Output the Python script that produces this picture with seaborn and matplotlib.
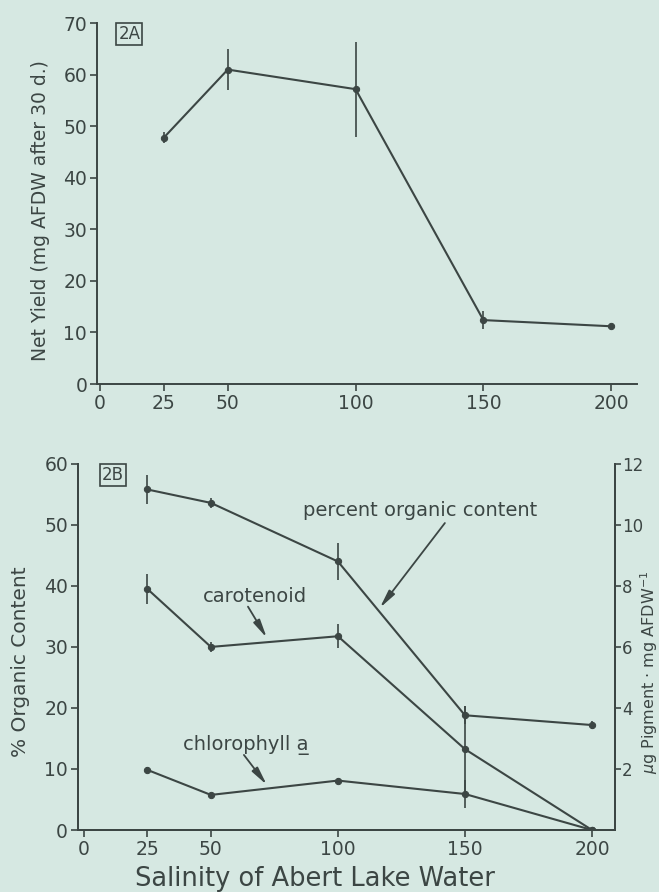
import numpy as np
import pandas as pd
import matplotlib
matplotlib.use('Agg')
import matplotlib.pyplot as plt
import seaborn as sns

# salinity levels (shared by both panels)
salinity = [25, 50, 100, 150, 200]

# panel 2A: net yield (mg AFDW after 30 d.)
net_yield = [47.8, 61.0, 57.2, 12.4, 11.2]
net_yield_err = [1.0, 4.0, 9.2, 1.8, 0.5]

# panel 2B: percent organic content (left axis)
organic = [55.8, 53.6, 44.0, 18.8, 17.2]
organic_err = [2.3, 0.8, 3.0, 1.5, 0.6]

# panel 2B: pigments, ug pigment per mg AFDW (right axis)
carotenoid = [7.9, 6.0, 6.35, 2.65, 0.0]
carotenoid_err = [0.5, 0.15, 0.4, 1.4, 0.0]
chlorophyll = [1.97, 1.15, 1.62, 1.18, 0.0]
chlorophyll_err = [0.1, 0.05, 0.1, 0.45, 0.0]

bg = '#d6e8e2'
ink = '#3c4644'

sns.set_theme(style='ticks')
plt.rcParams['font.family'] = ['DejaVu Sans']
plt.rcParams.update({
    'axes.facecolor': bg, 'figure.facecolor': bg,
    'axes.edgecolor': ink, 'xtick.color': ink, 'ytick.color': ink,
    'text.color': ink, 'axes.labelcolor': ink,
    'axes.linewidth': 1.4,
})

fig = plt.figure(figsize=(6.59, 8.92), dpi=100)
ax_a = fig.add_axes([0.147, 0.5695, 0.82, 0.4045])
ax_b = fig.add_axes([0.118, 0.0695, 0.815, 0.4105])


def draw_series(ax, x, y, err):
    df = pd.DataFrame({'x': x, 'y': y})
    sns.lineplot(data=df, x='x', y='y', ax=ax, color=ink, lw=1.5,
                 marker='o', markersize=4.5, markeredgecolor=ink)
    ax.errorbar(x, y, yerr=err, fmt='none', ecolor=ink, elinewidth=1.2, capsize=0)


# ---- panel 2A
draw_series(ax_a, salinity, net_yield, net_yield_err)
ax_a.set_xlim(-1.2, 210.2)
ax_a.set_ylim(0, 70)
ax_a.set_xticks([0, 25, 50, 100, 150, 200])
ax_a.set_yticks(range(0, 71, 10))
ax_a.spines[['top', 'right']].set_visible(False)
ax_a.tick_params(labelsize=13.5, length=5, width=1.2, pad=2)
ax_a.set_xlabel('')
ax_a.set_ylabel('Net Yield (mg AFDW after 30 d.)', fontsize=13.5)
ax_a.yaxis.set_label_coords(-0.087, 0.48)
ax_a.text(0.04, 0.995, '2A', transform=ax_a.transAxes, fontsize=12, va='top',
          bbox=dict(boxstyle='square,pad=0.12', fc='none', ec=ink, lw=1.2))

# ---- panel 2B
draw_series(ax_b, salinity, organic, organic_err)
ax_b.set_xlim(-2.4, 209)
ax_b.set_ylim(0, 60)
ax_b.set_xticks([0, 25, 50, 100, 150, 200])
ax_b.set_yticks(range(0, 61, 10))
ax_b.spines[['top']].set_visible(False)
ax_b.tick_params(labelsize=13.5, length=5, width=1.2, pad=2)
ax_b.set_xlabel('Salinity of Abert Lake Water', fontsize=18.5)
ax_b.xaxis.set_label_coords(0.441, -0.098)
ax_b.set_ylabel('% Organic Content', fontsize=14.5)
ax_b.yaxis.set_label_coords(-0.089, 0.46)

ax_r = ax_b.twinx()
draw_series(ax_r, salinity, carotenoid, carotenoid_err)
draw_series(ax_r, salinity, chlorophyll, chlorophyll_err)
ax_r.set_ylim(0, 12)
ax_r.set_yticks(range(2, 13, 2))
ax_r.spines[['top']].set_visible(False)
ax_r.tick_params(labelsize=12, length=4, width=1.2, pad=1)
ax_r.set_ylabel(r'$\mu$g Pigment $\cdot$ mg AFDW$^{-1}$', fontsize=11.5)
ax_r.yaxis.set_label_coords(1.044, 0.43)
ax_r.set_xlabel('')

ax_b.text(0.045, 0.995, '2B', transform=ax_b.transAxes, fontsize=12, va='top',
          bbox=dict(boxstyle='square,pad=0.12', fc='none', ec=ink, lw=1.2))

arrow = dict(arrowstyle='-|>,head_length=0.9,head_width=0.18', color=ink, lw=1.3,
             shrinkA=0, shrinkB=0)
ax_b.annotate('', xy=(116.5, 36.4), xytext=(142.1, 50.3), arrowprops=arrow)
ax_b.text(132.3, 52.3, 'percent organic content', fontsize=14, ha='center', va='center')
ax_b.annotate('', xy=(72, 31.5), xytext=(64.6, 36.6), arrowprops=arrow)
ax_b.text(67.3, 38.2, 'carotenoid', fontsize=14, ha='center', va='center')
ax_b.annotate('', xy=(72, 7.4), xytext=(63, 12.3), arrowprops=arrow)
ax_b.text(63.8, 13.9, 'chlorophyll a\u0332', fontsize=14, ha='center', va='center')

fig.savefig('out.png', dpi=100)
